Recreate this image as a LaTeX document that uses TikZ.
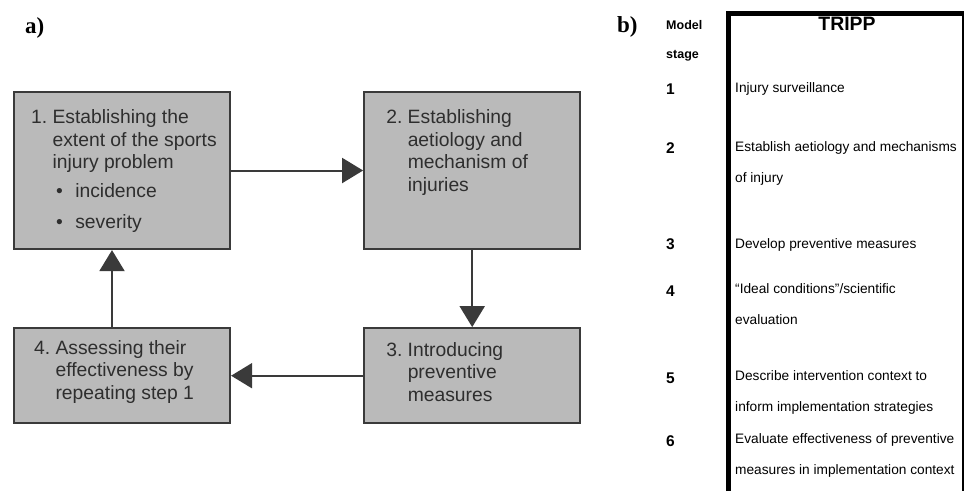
\documentclass[tikz,border=0pt]{standalone}
\usepackage{fontspec}
\setmainfont{Liberation Serif}
\setsansfont{Liberation Sans}
\definecolor{bxFill}{HTML}{BABABA}
\definecolor{bxInk}{HTML}{3A3A3A}
\definecolor{bxText}{HTML}{2E2E2E}
\usetikzlibrary{positioning,arrows.meta}

\begin{document}
\begin{tikzpicture}[x=1pt,y=1pt,
                    stepbox/.style={draw=bxInk,line width=2.2pt,fill=bxFill,
                                    minimum width=216pt,inner sep=0pt},
                    steptext/.style={anchor=base west,inner sep=0pt,text=bxText,
                                     font=\sffamily\fontsize{19.3}{22.5}\selectfont},
                    flow/.style={draw=bxInk,line width=2pt,
                                 -{Triangle[length=21pt,width=25pt]}},
                    panel/.style={anchor=base west,inner sep=0pt,
                                  font=\rmfamily\bfseries\fontsize{23}{23}\selectfont},
                    stagenum/.style={anchor=base west,inner sep=0pt,
                                     font=\sffamily\bfseries\fontsize{15.5}{16}\selectfont},
                    stagetext/.style={anchor=base west,inner sep=0pt,align=left,
                                      font=\sffamily\fontsize{13.7}{31}\selectfont}]
  \useasboundingbox (0,0) rectangle (965,491);

  % a) the four-step sequence
  \node[panel] (labelA) at (25,457) {a)};
  \node[stepbox,minimum height=157pt] (extent) at (122,320.5) {};
  \node[stepbox,minimum height=157pt,right=132pt of extent] (aetiology) {};
  \node[stepbox,minimum height=95pt,below=77pt of aetiology] (measures) {};
  \node[stepbox,minimum height=95pt,left=132pt of measures] (assess) {};

  \node[steptext] (extentText) at ([shift={(18pt,-33pt)}]extent.north west)
    {\begin{tabular}[t]{@{}l@{\ }l@{}}1.&Establishing the\\&extent of the sports\\
     &injury problem\\[6.5pt]&\hspace{3.5pt}•\hspace{12.5pt}incidence\\[8.5pt]
     &\hspace{3.5pt}•\hspace{12.5pt}severity\end{tabular}};
  \node[steptext] (aetiologyText) at ([shift={(23pt,-33pt)}]aetiology.north west)
    {\begin{tabular}[t]{@{}l@{\ }l@{}}2.&Establishing\\&aetiology and\\
     &mechanism of\\&injuries\end{tabular}};
  \node[steptext] (measuresText) at ([shift={(23pt,-29pt)}]measures.north west)
    {\begin{tabular}[t]{@{}l@{\ }l@{}}3.&Introducing\\&preventive\\&measures\end{tabular}};
  \node[steptext] (assessText) at ([shift={(21pt,-27pt)}]assess.north west)
    {\begin{tabular}[t]{@{}l@{\ }l@{}}4.&Assessing their\\&effectiveness by\\
     &repeating step 1\end{tabular}};

  \draw[flow] (extent) -- (aetiology);
  \draw[flow] (aetiology) -- (measures);
  \draw[flow] (measures) -- (assess);
  \draw[flow] ([xshift=-10pt]assess.north) -- ([xshift=-10pt]assess.north |- extent.south);

  % b) the TRIPP column; multi-line nodes sit on their last baseline
  \node[panel] (labelB) at (617,458) {b)};
  \draw[line width=5pt] (728,0) -- (728,477) -- (963,477);
  \draw[line width=1.5pt] (963,479.5) -- (963,0);
  \node[anchor=base,inner sep=0pt,font=\sffamily\bfseries\fontsize{19.4}{20}\selectfont]
    (tripp) at (847,460) {TRIPP};
  \node[anchor=base west,inner sep=0pt,align=left,
        font=\sffamily\bfseries\fontsize{12.5}{29}\selectfont] (stageHead) at (666,432) {Model\\stage};

  \node[stagenum] (num1) at (666,396) {1};
  \node[stagenum] (num2) at (666,338) {2};
  \node[stagenum] (num3) at (666,242) {3};
  \node[stagenum] (num4) at (666,195) {4};
  \node[stagenum] (num5) at (666,108) {5};
  \node[stagenum] (num6) at (666,45) {6};

  \node[stagetext] (row1) at (735,398) {Injury surveillance};
  \node[stagetext] (row2) at (735,308.5) {Establish aetiology and mechanisms\\of injury};
  \node[stagetext] (row3) at (735,243) {Develop preventive measures};
  \node[stagetext] (row4) at (735,167) {“Ideal conditions”/scientific\\evaluation};
  \node[stagetext] (row5) at (735,80) {Describe intervention context to\\inform implementation strategies};
  \node[stagetext] (row6) at (735,17) {Evaluate effectiveness of preventive\\measures in implementation context};
\end{tikzpicture}
\end{document}
